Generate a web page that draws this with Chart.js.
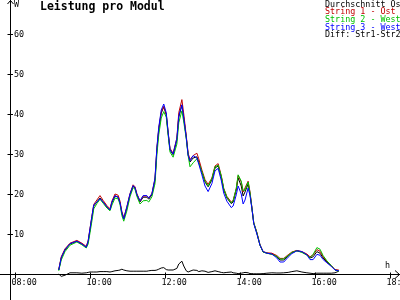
<!DOCTYPE html>
<html>
<head>
<meta charset="utf-8">
<script src="https://cdn.jsdelivr.net/npm/chart.js@4/dist/chart.umd.min.js"></script>
<style>
html,body{margin:0;padding:0;background:#fff;}
canvas{display:block;}
</style>
</head>
<body>
<canvas id="c" width="400" height="300"></canvas>
<script>
const chartTitle = "Leistung pro Modul";
const seriesLabels = ["Durchschnitt Os", "String 1 - Ost", "String 2 - West", "String 3 - West", "Diff: Str1-Str2"];
const seriesColors = ["#000000", "#c00000", "#00c000", "#0000ff", "#000000"];
const xTickLabels = ["08:00", "10:00", "12:00", "14:00", "16:00", "18:00"];
const yTickLabels = ["10", "20", "30", "40", "50", "60"];

const times = ["09:10","09:14","09:20","09:28","09:39","09:47","09:54","09:57","10:00","10:03",
"10:06","10:11","10:16","10:21","10:27","10:32","10:35","10:40","10:45","10:48",
"10:51","10:54","10:59","11:04","11:09","11:12","11:15","11:20","11:25","11:31",
"11:34","11:39","11:44","11:47","11:50","11:54","11:58","12:02","12:05","12:08",
"12:13","12:19","12:22","12:27","12:30","12:34","12:37","12:40","12:45","12:51",
"12:54","12:59","13:04","13:09","13:15","13:20","13:25","13:30","13:34","13:39",
"13:46","13:49","13:54","13:57","14:02","14:05","14:08","14:13","14:16","14:19",
"14:22","14:27","14:32","14:37","14:43","14:51","14:59","15:04","15:10","15:17",
"15:23","15:31","15:39","15:47","15:52","15:57","16:03","16:08","16:13","16:19",
"16:26","16:32","16:38"];

const avg = [1.0,4.0,6.0,7.5,8.2,7.5,6.7,8.0,11.0,14.0,
17.0,18.0,19.0,18.0,16.8,16.0,17.8,19.5,19.2,17.8,
15.2,13.7,16.5,19.8,22.0,21.5,19.8,18.0,19.2,19.2,
18.7,19.8,23.5,31.0,36.0,40.2,41.8,39.8,35.2,31.0,
29.8,33.5,39.2,42.2,39.0,34.2,29.8,28.0,29.0,29.3,
28.0,25.5,23.0,21.8,23.5,26.5,27.0,24.2,21.0,19.0,
17.6,18.0,21.0,24.0,22.0,19.5,20.5,22.5,20.0,16.5,
12.7,10.2,7.2,5.5,5.2,5.0,4.3,3.5,3.5,4.5,
5.3,5.8,5.5,4.8,4.0,4.3,5.6,5.2,4.0,3.0,
2.0,1.0,0.8];

const str1 = [1.2,4.3,6.3,7.7,8.4,7.7,6.9,8.3,11.4,14.4,
17.4,18.5,19.6,18.4,17.1,16.3,18.2,20.0,19.7,18.2,
15.6,14.1,16.8,20.1,22.3,21.8,20.1,18.2,19.5,19.5,
19.0,20.1,23.8,31.4,36.4,40.5,41.9,40.0,35.5,31.4,
30.2,34.0,40.3,43.6,40.0,34.6,30.2,28.6,29.6,30.2,
28.8,26.0,23.6,22.4,24.0,27.0,27.6,24.6,21.4,19.4,
18.0,18.4,21.3,24.6,23.0,20.5,21.5,23.2,20.5,16.7,
12.8,10.4,7.3,5.6,5.3,5.2,4.6,3.9,3.9,4.8,
5.5,5.9,5.6,5.0,4.3,4.8,6.1,5.7,4.3,3.2,
2.1,1.1,1.0];

const str2 = [0.8,3.5,5.6,7.2,8.0,7.3,6.5,7.5,10.3,13.2,
16.3,17.6,18.7,17.7,16.5,15.8,17.2,19.0,18.8,17.4,
14.6,13.2,15.8,19.3,21.6,21.2,19.4,17.5,18.3,18.4,
18.0,19.3,22.6,29.8,34.8,39.0,40.6,39.2,34.7,30.5,
29.2,32.5,37.8,40.8,38.0,33.8,29.6,26.8,27.8,28.8,
27.8,25.6,23.2,22.0,23.8,26.8,27.2,24.5,21.3,19.2,
17.8,18.3,21.4,24.8,23.2,20.8,21.0,23.0,20.3,16.6,
12.8,10.3,7.2,5.5,5.2,4.9,4.4,3.7,3.8,4.6,
5.4,5.8,5.4,4.7,4.1,4.9,6.6,6.2,4.6,3.3,
2.1,1.0,0.7];

const str3 = [1.0,4.1,6.1,7.6,8.2,7.5,6.7,8.2,11.3,14.4,
17.3,18.0,18.8,18.0,16.8,16.0,18.0,19.6,19.2,17.8,
15.3,13.8,16.8,20.0,22.1,21.6,19.9,18.3,19.6,19.6,
19.0,20.0,24.0,31.6,36.7,41.0,42.5,40.3,35.4,31.1,
30.0,33.9,39.5,42.3,39.0,34.2,29.7,28.3,29.6,29.0,
27.5,24.8,22.0,20.6,22.6,25.8,26.4,23.4,20.2,18.2,
16.6,17.0,19.8,22.0,20.0,17.5,18.5,21.5,19.6,16.4,
12.6,10.0,7.2,5.6,5.2,5.0,4.0,3.0,3.0,4.2,
5.1,5.8,5.6,4.8,3.6,3.6,4.9,4.7,3.6,2.8,
1.9,1.0,0.8];

const diff = [0.0,-0.6,-0.3,0.3,0.3,0.2,0.3,0.4,0.5,0.5,
0.5,0.5,0.6,0.6,0.6,0.5,0.6,0.8,0.9,1.0,
1.2,1.0,0.8,0.7,0.7,0.7,0.7,0.7,0.7,0.7,
0.8,0.9,0.9,1.0,1.2,1.5,1.6,1.1,1.0,1.0,
1.0,1.4,2.5,3.2,2.0,0.8,0.5,0.7,1.0,0.9,
0.6,0.8,0.7,0.4,0.6,0.8,0.6,0.4,0.3,0.4,
0.5,0.3,0.2,0.1,0.2,0.3,0.4,0.3,0.1,0.1,
0.05,0.05,0.05,0.1,0.2,0.3,0.25,0.25,0.3,0.4,
0.6,0.8,0.5,0.3,0.2,0.1,0.2,0.2,0.2,0.2,
0.2,0.3,0.7];

function toMin(t){ const p = t.split(":"); return (+p[0])*60 + (+p[1]); }
function pts(vals){ return times.map((t,i)=>({x: toMin(t), y: vals[i]})); }

const allSeries = [avg, str1, str2, str3, diff];
const orders = [4, 3, 2, 1, 5];

const datasets = allSeries.map((vals, i) => ({
  label: seriesLabels[i],
  data: pts(vals),
  borderColor: seriesColors[i],
  borderWidth: 1,
  pointRadius: 0,
  tension: 0,
  fill: false,
  clip: false,
  order: orders[i]
}));

const smallFont = "8.4px 'DejaVu Sans Mono'";

const axesPlugin = {
  id: 'axesPlugin',
  afterDraw(chart){
    const ctx = chart.ctx;
    const xs = chart.scales.x, ys = chart.scales.y;
    const ca = chart.chartArea;
    const y0 = Math.round(ys.getPixelForValue(0)) + 0.5;
    const yAxX = Math.round(ca.left - 5) + 0.5;
    ctx.save();
    ctx.strokeStyle = "#000"; ctx.lineWidth = 1;
    // axes lines
    ctx.beginPath();
    ctx.moveTo(yAxX, 0); ctx.lineTo(yAxX, chart.height);
    ctx.moveTo(0, y0); ctx.lineTo(chart.width, y0);
    // y arrow
    ctx.moveTo(yAxX - 3, 4); ctx.lineTo(yAxX, 0.5); ctx.lineTo(yAxX + 3, 4);
    // x arrow
    ctx.moveTo(chart.width - 5, y0 - 4); ctx.lineTo(chart.width - 0.5, y0); ctx.lineTo(chart.width - 5, y0 + 4);
    ctx.stroke();

    ctx.fillStyle = "#000";
    ctx.font = smallFont;
    ctx.textBaseline = "middle";
    ctx.textAlign = "left";
    // y ticks
    yTickLabels.forEach(lab => {
      const py = Math.round(ys.getPixelForValue(+lab)) + 0.5;
      ctx.beginPath(); ctx.moveTo(yAxX - 3, py); ctx.lineTo(yAxX + 2.5, py); ctx.stroke();
      ctx.fillText(lab, yAxX + 3.5, py);
    });
    // x ticks
    xTickLabels.forEach(lab => {
      const px = Math.round(xs.getPixelForValue(toMin(lab))) + 0.5;
      ctx.beginPath(); ctx.moveTo(px, y0 - 2); ctx.lineTo(px, y0 + 4); ctx.stroke();
      ctx.fillText(lab, px - 4, y0 + 8.5);
    });
    // unit labels
    ctx.fillText("W", yAxX + 3.5, 5);
    ctx.fillText("h", 385, y0 - 8.5);

    // title
    ctx.font = "bold 11.5px 'DejaVu Sans Mono'";
    ctx.fillText(chartTitle, 40, 7.5);

    // legend
    ctx.font = smallFont;
    seriesLabels.forEach((lab, i) => {
      ctx.fillStyle = seriesColors[i];
      ctx.fillText(lab, 325, 4.5 + i * 7.7);
    });
    ctx.restore();
  }
};

new Chart(document.getElementById('c'), {
  type: 'line',
  data: { datasets },
  options: {
    responsive: false,
    animation: false,
    devicePixelRatio: 1,
    parsing: true,
    layout: { padding: { left: 15, right: 10, top: 34, bottom: 26 } },
    plugins: { legend: { display: false }, title: { display: false }, tooltip: { enabled: false } },
    scales: {
      x: { type: 'linear', min: toMin(xTickLabels[0]), max: toMin(xTickLabels[xTickLabels.length-1]), display: false },
      y: { type: 'linear', min: 0, max: +yTickLabels[yTickLabels.length-1], display: false }
    }
  },
  plugins: [axesPlugin]
});
</script>
</body>
</html>
